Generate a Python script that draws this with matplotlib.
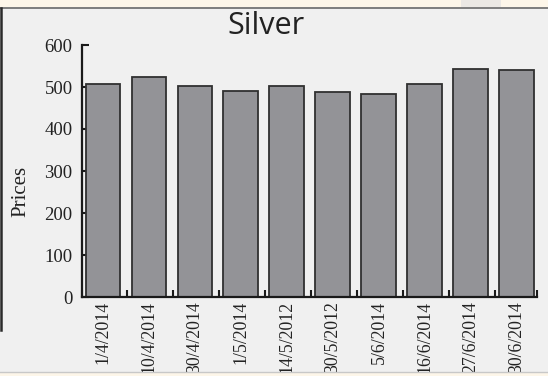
import numpy as np
import matplotlib.pyplot as plt
from matplotlib.patches import Rectangle

# silver prices on each date
dates = ["1/4/2014", "10/4/2014", "30/4/2014", "1/5/2014", "14/5/2012",
         "30/5/2012", "5/6/2014", "16/6/2014", "27/6/2014", "30/6/2014"]
prices = [507, 524, 502, 491, 502, 488, 483, 508, 543, 540]

fig = plt.figure(figsize=(5.48, 3.76), dpi=100, facecolor="#f0f0f0")

# page border bits around the figure
fig.patches.append(Rectangle((0, 369 / 376), 1, 7 / 376, transform=fig.transFigure,
                             facecolor="#fdf6e9", edgecolor="none", zorder=0))
fig.patches.append(Rectangle((461 / 548, 369 / 376), 40 / 548, 7 / 376, transform=fig.transFigure,
                             facecolor="#ebe8e4", edgecolor="none", zorder=0))
fig.add_artist(plt.Line2D([0, 1], [368.5 / 376, 368.5 / 376], transform=fig.transFigure,
                          color="#6a6a6a", lw=1.2))
fig.add_artist(plt.Line2D([1 / 548, 1 / 548], [46 / 376, 368 / 376], transform=fig.transFigure,
                          color="#2a2a2a", lw=1.8))
fig.patches.append(Rectangle((0, 0), 1, 4 / 376, transform=fig.transFigure,
                             facecolor="#fdf6e9", edgecolor="none", zorder=0))
fig.add_artist(plt.Line2D([0, 1], [4.5 / 376, 4.5 / 376], transform=fig.transFigure,
                          color="#c8c8c8", lw=1.0))

ax = fig.add_axes([82.3 / 548, 79 / 376, 454.4 / 548, 252 / 376])
ax.set_facecolor("#f0f0f0")

x = np.arange(len(dates))
ax.bar(x, prices, width=0.76, color="#939397", edgecolor="#303030", linewidth=1.3, zorder=2)

ax.set_xlim(-0.45, len(dates) - 0.57)
ax.set_ylim(0, 600)
ax.set_yticks(range(0, 601, 100))

ax.set_xticks(x)
ax.set_xticklabels(dates, rotation=90, va="top", ha="center",
                   fontfamily="Liberation Serif", fontsize=12.8, color="#222222")
ax.tick_params(axis="x", which="major", length=0, pad=3)
ax.set_xticks(np.append(x[:-1] + 0.52, [-0.45, len(dates) - 0.57]), minor=True)
ax.tick_params(axis="x", which="minor", direction="in", length=5, width=1.5, color="#1a1a1a")

ax.tick_params(axis="y", direction="in", length=5, width=1.5, color="#1a1a1a", pad=7,
               labelsize=13.5, labelcolor="#222222")
for lbl in ax.get_yticklabels():
    lbl.set_fontfamily("Liberation Serif")

for side in ["top", "right"]:
    ax.spines[side].set_visible(False)
for side in ["left", "bottom"]:
    ax.spines[side].set_linewidth(1.6)
    ax.spines[side].set_color("#1a1a1a")

ax.set_ylabel("Prices", fontfamily="Liberation Serif", fontsize=15, color="#222222")
ax.yaxis.set_label_coords(-0.115, 0.417)

fig.text(266 / 548, 1 - 26 / 376, "Silver", ha="center", va="center",
         fontfamily="Open Sans", fontsize=22, color="#222222")

plt.savefig("out.png", dpi=100, facecolor=fig.get_facecolor())
